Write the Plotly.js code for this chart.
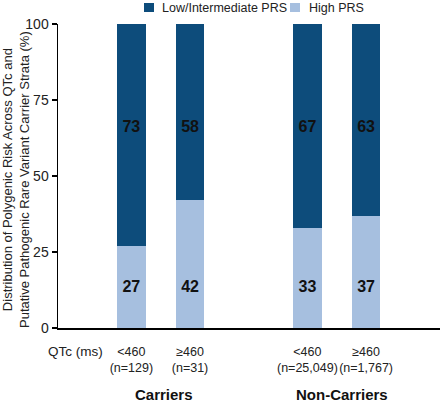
<!DOCTYPE html>
<html><head><meta charset="utf-8">
<script src="https://cdn.plot.ly/plotly-3.0.1.min.js"></script>
<style>html,body{margin:0;padding:0;background:#fff}#chart{width:440px;height:404px}</style>
</head><body><div id="chart"></div>
<script>
var categories = ["&lt;460<br>(n=129)", "≥460<br>(n=31)", " ", "&lt;460<br>(n=25,049)", "≥460<br>(n=1,767)"];
var barCategories = ["&lt;460<br>(n=129)", "≥460<br>(n=31)", "&lt;460<br>(n=25,049)", "≥460<br>(n=1,767)"];
var highPRS = [27, 42, 33, 37];
var lowIntPRS = [73, 58, 67, 63];
var groupLabels = ["Carriers", "Non-Carriers"];
var seriesNames = ["Low/Intermediate PRS", "High PRS"];
var yTitle = "Distribution of Polygenic Risk Across QTc and<br>Putative Pathogenic Rare Variant Carrier Strata (%)";
var xLead = "QTc (ms)";

var FONT = "Liberation Sans, Arial, sans-serif";
var dark = "#0d4c7b", light = "#a6bfdf";
// fixed label heights (axis units) used by the reference for the value labels
var LOW_LABEL_Y = 13.3, HIGH_LABEL_Y = 65.8;

function px(x) { return (x - 58) / 382; }
function py(y) { return (328 - y) / 304; }

var labelFont = {color: "#111", size: 16, family: FONT, weight: "bold"};
var traces = [
  {type: "bar", name: seriesNames[1], x: barCategories, y: highPRS, marker: {color: light},
   width: 0.49, hoverinfo: "none"},
  {type: "bar", name: seriesNames[0], x: barCategories, y: lowIntPRS, marker: {color: dark},
   width: 0.49, hoverinfo: "none"},
  {type: "scatter", mode: "text", x: barCategories, y: barCategories.map(function(){return LOW_LABEL_Y;}),
   text: highPRS.map(String), textposition: "middle center", textfont: labelFont, hoverinfo: "none"},
  {type: "scatter", mode: "text", x: barCategories, y: barCategories.map(function(){return HIGH_LABEL_Y;}),
   text: lowIntPRS.map(String), textposition: "middle center", textfont: labelFont, hoverinfo: "none"}
];

var layout = {
  width: 440, height: 404,
  margin: {l: 58, r: 0, t: 24, b: 76},
  barmode: "stack",
  paper_bgcolor: "#fff", plot_bgcolor: "#fff",
  font: {family: FONT, color: "#222", size: 13},
  showlegend: false,
  xaxis: {type: "category", categoryorder: "array", categoryarray: categories,
    range: [-1.25, 5.26], showline: true, linecolor: "#000", linewidth: 1.5,
    ticks: "", showgrid: false, zeroline: false, tickangle: 0,
    tickfont: {size: 12.5, color: "#222"}, ticklabelstandoff: 11, automargin: false},
  yaxis: {range: [0, 100], tickvals: [0, 25, 50, 75, 100], showline: true, linecolor: "#000",
    linewidth: 1.5, ticks: "outside", ticklen: 5, tickwidth: 1.5, tickcolor: "#000",
    showgrid: false, zeroline: false, tickfont: {size: 14, color: "#222"}, automargin: false},
  shapes: [
    {type: "rect", xref: "paper", yref: "paper", x0: px(144), x1: px(154), y0: py(3), y1: py(12),
     fillcolor: dark, line: {width: 0}},
    {type: "rect", xref: "paper", yref: "paper", x0: px(290), x1: px(300), y0: py(3), y1: py(12),
     fillcolor: light, line: {width: 0}}
  ],
  annotations: [
    {xref: "paper", yref: "paper", x: px(160), y: py(8), text: seriesNames[0],
     showarrow: false, xanchor: "left", yanchor: "middle", font: {size: 12.5, color: "#222"}},
    {xref: "paper", yref: "paper", x: px(307), y: py(8), text: seriesNames[1],
     showarrow: false, xanchor: "left", yanchor: "middle", font: {size: 12.5, color: "#222"}},
    {xref: "paper", yref: "paper", x: px(16), y: py(180), text: yTitle, textangle: -90,
     showarrow: false, xanchor: "center", yanchor: "middle", font: {size: 13, color: "#222"}},
    {xref: "paper", yref: "paper", x: px(75), y: py(351), text: xLead,
     showarrow: false, xanchor: "center", yanchor: "middle", font: {size: 13.5, color: "#222"}},
    {xref: "paper", yref: "paper", x: px(163.5), y: py(394.5), text: "<b>" + groupLabels[0] + "</b>",
     showarrow: false, xanchor: "center", yanchor: "middle", font: {size: 15, color: "#111"}},
    {xref: "paper", yref: "paper", x: px(341.5), y: py(394.5), text: "<b>" + groupLabels[1] + "</b>",
     showarrow: false, xanchor: "center", yanchor: "middle", font: {size: 15, color: "#111"}}
  ]
};
Plotly.newPlot("chart", traces, layout, {displayModeBar: false, staticPlot: true});
</script></body></html>
